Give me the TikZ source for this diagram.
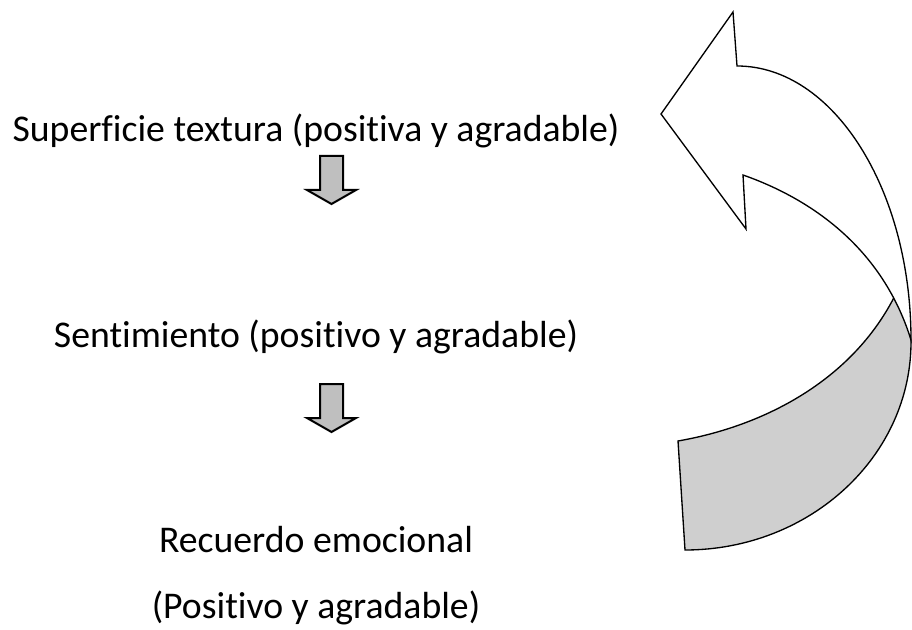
\documentclass[tikz,border=0pt]{standalone}
\usepackage{fontspec}
\setmainfont{Carlito}[Ligatures={NoCommon}]
\begin{document}
\begin{tikzpicture}[x=0.75pt,y=-0.75pt,
  label/.style={anchor=base,inner sep=0pt,font=\fontsize{28.3}{34}\selectfont},
  downarrow/.style={draw=black,line width=1.5pt,fill=black!25,line join=miter},
  backface/.style={draw=black,line width=1pt,fill=black!19},
  frontface/.style={draw=black,line width=1pt,fill=white,line join=miter}]
\useasboundingbox (0,0) rectangle (912,630);
% texts
\node[label] (t1) at (316,142) {Superficie textura (positiva y agradable)};
\node[label] (t2) at (316,347) {Sentimiento (positivo y agradable)};
\node[label] (t3) at (316,552) {Recuerdo emocional};
\node[label] (t4) at (316,618) {(Positivo y agradable)};
% small down arrows
\draw[downarrow] (320,156) -- (343,156) -- (343,190) -- (356,190) -- (331.5,204)
  -- (307,190) -- (320,190) -- cycle;
\draw[downarrow] (320,384) -- (343,384) -- (343,418) -- (356,418) -- (331.5,432)
  -- (307,418) -- (320,418) -- cycle;
% curved arrow: back face (gray)
\coordinate (C) at (685,550);
\coordinate (D) at (678,441);
\coordinate (G) at (900,285);
\coordinate (Q) at (911,340);
\coordinate (B) at (737,66);
\coordinate (A) at (733,12);
\coordinate (L) at (661,114);
\coordinate (F) at (746,229);
\coordinate (E) at (743,175);
\draw[backface] (C) -- (D) .. controls (770,425) and (860,375) .. (G) -- (Q)
  .. controls (912,456) and (810,550) .. (C) -- cycle;
% front face (white)
\draw[frontface] (B) .. controls (833,66) and (911,189) .. (Q)
  .. controls (880,240) and (800,195) .. (E) -- (F) -- (L) -- (A) -- cycle;
\end{tikzpicture}
\end{document}
